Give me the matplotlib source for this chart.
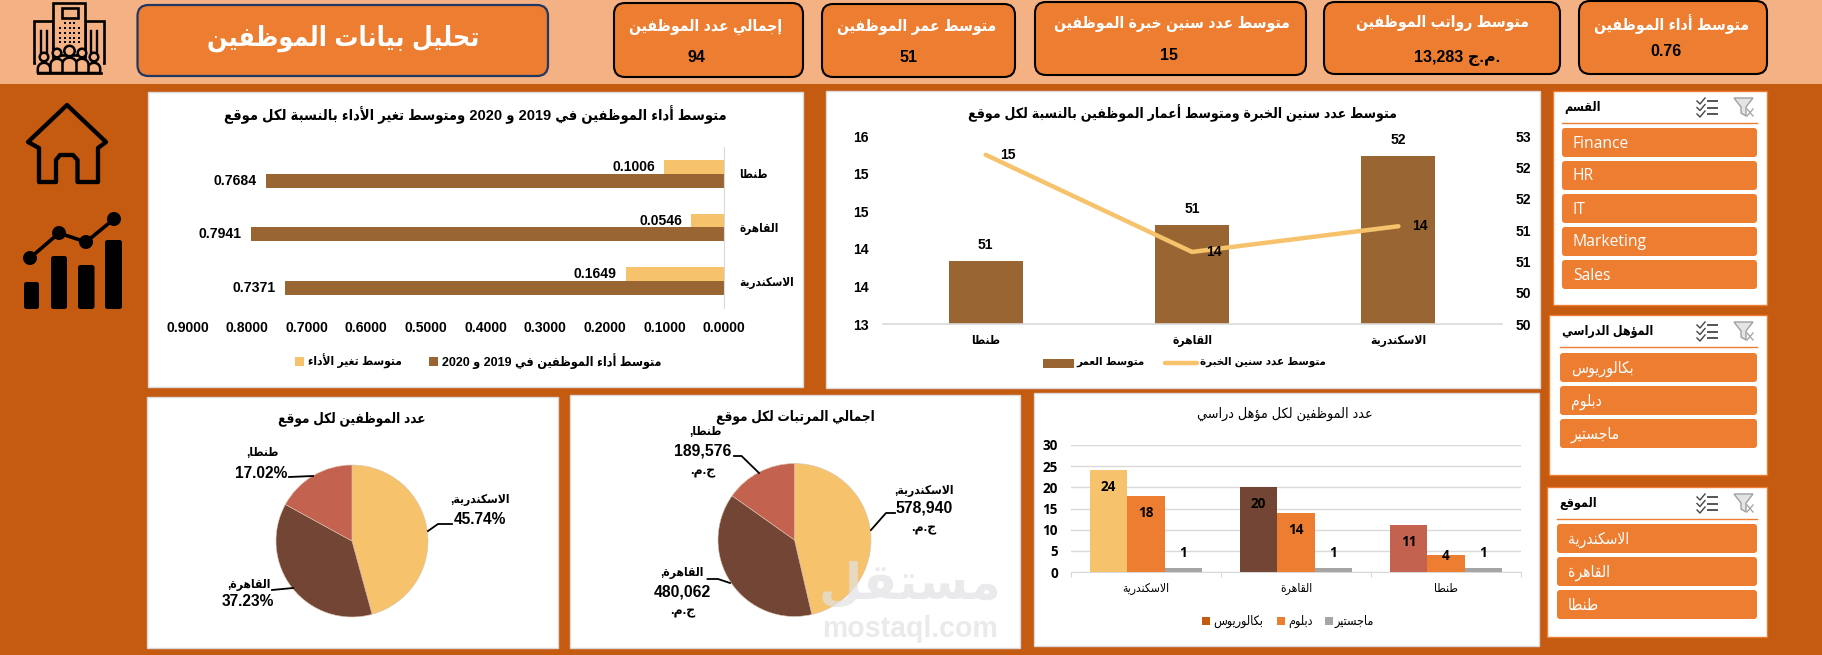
import re
import numpy as np
import matplotlib
matplotlib.use("Agg")
import matplotlib.pyplot as plt
from matplotlib.patches import FancyBboxPatch, Rectangle, Polygon, Circle, Ellipse
from matplotlib.lines import Line2D

W, H = 1822, 655
FONT = ['Liberation Sans', 'DejaVu Sans']
plt.rcParams['font.family'] = FONT

# ---- data ----
sites = ['الاسكندرية', 'القاهرة', 'طنطا']
perf_2019_2020 = [0.7371, 0.7941, 0.7684]
perf_change = [0.1649, 0.0546, 0.1006]

age_sites = ['طنطا', 'القاهرة', 'الاسكندرية']
avg_age = [51.0, 51.58, 52.68]
avg_experience = [15.70, 14.15, 14.56]
left_ticks = [13, 13.6, 14.2, 14.8, 15.4, 16]
right_ticks = [50, 50.5, 51, 51.5, 52, 52.5, 53]
right_tick_labels = ['50', '50', '51', '51', '52', '52', '53']

headcount = [43, 35, 16]
salaries = [578940, 480062, 189576]

degree_names = ['بكالوريوس', 'دبلوم', 'ماجستير']
bachelor = [24, 20, 11]
diploma = [18, 14, 4]
master = [1, 1, 1]

kpi_titles = ['إجمالي عدد الموظفين', 'متوسط عمر الموظفين', 'متوسط عدد سنين خبرة الموظفين',
              'متوسط رواتب الموظفين', 'متوسط أداء الموظفين']
kpi_values = ['94', '51', '15', '13,283 \uFE9D.\uFEE1.', '0.76']

departments = ['Finance', 'HR', 'IT', 'Marketing', 'Sales']

# ---- palette ----
BAND = '#F4B183'
BG = '#C55A11'
ORANGE = '#ED7D31'
GOLD = '#F6C26B'
BROWN = '#996633'
DARK = '#734534'
ROSE = '#C46250'
GREY = '#A5A5A5'
RULE = '#D9D9D9'

# ---- Arabic presentation forms: isolated, final, initial, medial ----
def _forms(start, n):
    return tuple(chr(start + i) for i in range(n))

FORMS = {'ء': _forms(0xFE80, 1), 'آ': _forms(0xFE81, 2), 'أ': _forms(0xFE83, 2), 'ؤ': _forms(0xFE85, 2),
         'إ': _forms(0xFE87, 2), 'ئ': _forms(0xFE89, 4), 'ا': _forms(0xFE8D, 2), 'ب': _forms(0xFE8F, 4),
         'ة': _forms(0xFE93, 2), 'ت': _forms(0xFE95, 4), 'ث': _forms(0xFE99, 4), 'ج': _forms(0xFE9D, 4),
         'ح': _forms(0xFEA1, 4), 'خ': _forms(0xFEA5, 4), 'د': _forms(0xFEA9, 2), 'ذ': _forms(0xFEAB, 2),
         'ر': _forms(0xFEAD, 2), 'ز': _forms(0xFEAF, 2), 'س': _forms(0xFEB1, 4), 'ش': _forms(0xFEB5, 4),
         'ص': _forms(0xFEB9, 4), 'ض': _forms(0xFEBD, 4), 'ط': _forms(0xFEC1, 4), 'ظ': _forms(0xFEC5, 4),
         'ع': _forms(0xFEC9, 4), 'غ': _forms(0xFECD, 4), 'ف': _forms(0xFED1, 4), 'ق': _forms(0xFED5, 4),
         'ك': _forms(0xFED9, 4), 'ل': _forms(0xFEDD, 4), 'م': _forms(0xFEE1, 4), 'ن': _forms(0xFEE5, 4),
         'ه': _forms(0xFEE9, 4), 'و': _forms(0xFEED, 2), 'ى': _forms(0xFEEF, 2), 'ي': _forms(0xFEF1, 4)}
LAM_ALEF = {'آ': (0xFEF5, 0xFEF6), 'أ': (0xFEF7, 0xFEF8), 'إ': (0xFEF9, 0xFEFA), 'ا': (0xFEFB, 0xFEFC)}


def _shape_word(word):
    out = []
    i = 0
    prev_joins = False
    while i < len(word):
        ch = word[i]
        nxt = word[i + 1] if i + 1 < len(word) else ''
        if ch == 'ل' and nxt in LAM_ALEF:
            out.append(chr(LAM_ALEF[nxt][1 if prev_joins else 0]))
            prev_joins = False
            i += 2
            continue
        forms = FORMS.get(ch)
        if forms is None:
            out.append(ch)
            prev_joins = False
            i += 1
            continue
        next_joins = len(forms) == 4 and nxt in FORMS and len(FORMS[nxt]) > 1
        if len(forms) == 1:
            out.append(forms[0])
        elif len(forms) == 2:
            out.append(forms[1 if prev_joins else 0])
        else:
            idx = {(False, False): 0, (True, False): 1, (False, True): 2, (True, True): 3}[(prev_joins, next_joins)]
            out.append(forms[idx])
        prev_joins = next_joins
        i += 1
    return ''.join(reversed(out))


def ar(text):
    """Visual-order string for right-to-left Arabic text."""
    tokens = re.findall(r'[\u0600-\u06FF]+|\s+|[^\u0600-\u06FF\s]+', text)
    return ''.join(_shape_word(t) if re.match(r'[\u0600-\u06FF]', t) else t for t in reversed(tokens))


fig = plt.figure(figsize=(W / 100, H / 100), dpi=100, facecolor=BG)


def rect_axes(x0, y0, x1, y1, **kw):
    return fig.add_axes([x0 / W, 1 - y1 / H, (x1 - x0) / W, (y1 - y0) / H], **kw)


# full-figure layers addressed in pixels
back = rect_axes(0, 0, W, H, zorder=0)
back.set_xlim(0, W); back.set_ylim(H, 0); back.axis('off')
over = rect_axes(0, 0, W, H, zorder=10)
over.set_xlim(0, W); over.set_ylim(H, 0); over.axis('off'); over.patch.set_alpha(0)


def px(p):
    return p * 0.72


def txt(x, y, s, size, color='black', weight='bold', ha='center', va='center', family=FONT, **kw):
    return over.text(x, y, s, fontsize=px(size), color=color, fontweight=weight, ha=ha, va=va,
                     family=family, **kw)


def atxt(x, y, s, size, color='black', weight='bold', ha='center', **kw):
    return txt(x, y, ar(s), size, color, weight, ha, stretch='condensed', **kw)


def rbox(ax, x0, y0, x1, y1, r, fc, ec='none', lw=0, **kw):
    p = FancyBboxPatch((x0, y0), x1 - x0, y1 - y0, boxstyle=f'round,pad=0,rounding_size={r}',
                       fc=fc, ec=ec, lw=lw, **kw)
    ax.add_patch(p)
    return p


def panel(x0, y0, x1, y1, ec=RULE):
    back.add_patch(Rectangle((x0, y0), x1 - x0, y1 - y0, fc='white', ec=ec, lw=1))


# ---- header band ----
back.add_patch(Rectangle((0, 0), W, 84, fc=BAND, ec='none'))
rbox(back, 137.5, 5, 548, 76, 11, ORANGE, '#1F3864', 1.6)
atxt(343, 38, 'تحليل بيانات الموظفين', 26.7, 'white')

kpi_boxes = [(614, 3, 803, 77), (822, 4, 1015, 77), (1035, 2, 1306, 75), (1324, 2, 1560, 74), (1579, 1, 1767, 74)]
kpi_title_pos = [(706, 27), (917, 27), (1172, 24), (1442.5, 23), (1672, 24)]
kpi_value_pos = [(696, 58), (909, 58), (1169, 55), (1457, 58), (1666, 52)]
for box, title, value, tp, vp in zip(kpi_boxes, kpi_titles, kpi_values, kpi_title_pos, kpi_value_pos):
    rbox(back, *box, 11, ORANGE, 'black', 1.5)
    atxt(*tp, title, 15.6, 'white')
    txt(*vp, value, 16, 'black')

# ---- building emblem ----
for (x0, y0, x1, y1) in [(34, 21, 53, 63), (85, 21, 104, 63), (53, 3, 85, 55), (62, 8, 78, 18)]:
    back.add_patch(Rectangle((x0, y0), x1 - x0, y1 - y0, fc=BAND, ec='black', lw=1.9))
for xb in (41, 47, 91, 97):
    back.add_line(Line2D([xb, xb], [31, 52], color='black', lw=1.7))
for xd in (60, 65, 69.5, 74, 79):
    for yd in (23, 28, 33, 38, 42):
        if not (yd == 23 and xd in (60, 79)):
            back.add_patch(Rectangle((xd - 1, yd - 1), 2.2, 2.2, fc='black', ec='none'))
back.add_patch(Rectangle((36, 62), 67, 11, fc=BAND, ec='none'))
theta = np.linspace(np.pi, 0, 24)
for cx, head_y, r, half in [(44, 57, 4.3, 6.2), (94, 57, 4.3, 6.2), (57, 53, 4.3, 6.5), (82, 53, 4.3, 6.5), (69.5, 51, 5.2, 7)]:
    top = head_y + r + 1.5
    bx = cx + half * np.cos(theta)
    by = top + 6 - 6 * np.sin(theta)
    bx = np.r_[bx[0], bx, bx[-1]]
    by = np.r_[73, by, 73]
    back.add_patch(Polygon(np.c_[bx, by], closed=True, fc=BAND, ec='black', lw=1.8, joinstyle='round'))
    back.add_patch(Circle((cx, head_y), r, fc=BAND, ec='black', lw=1.8))
back.add_line(Line2D([38, 101], [73, 73], color='black', lw=1.9))

# ---- side navigation icons ----
home = [(67, 105), (106, 142), (98, 148), (98, 182), (77.5, 182), (77.5, 160), (73, 155), (60, 155), (56, 160),
        (56, 182), (39, 182), (39, 148), (28, 142)]
back.add_patch(Polygon(home, closed=True, fc='none', ec='black', lw=3.1, joinstyle='round'))
for x0, x1, top in [(24, 39, 282), (51, 67, 256), (78, 94.5, 265), (105, 122, 240)]:
    rbox(back, x0, top, x1, 309, 2.5, 'black')
trend = [(30, 258), (59, 233), (86, 242), (114, 219)]
back.add_line(Line2D(*zip(*trend), color='black', lw=2.6))
for pt in trend:
    back.add_patch(Ellipse(pt, 14, 14, fc='black', ec='none'))

# ---- panels ----
panel(148, 92, 803, 387)
panel(826, 91, 1540, 388)
panel(147, 397, 558, 648)
panel(570, 395, 1020, 648)
panel(1034, 393, 1539, 646)

AR_TICK = dict(stretch='condensed')

# ---- performance by site ----
atxt(475, 115, 'متوسط أداء الموظفين في 2019 و 2020 ومتوسط تغير الأداء بالنسبة لكل موقع', 14.6)
ax = rect_axes(187.5, 147, 724, 308, zorder=2)
ax.patch.set_alpha(0)
ypos = np.arange(len(sites))
bar_h = 14 / 53.67
ax.barh(ypos + bar_h / 2, perf_change, bar_h, color=GOLD)
ax.barh(ypos - bar_h / 2, perf_2019_2020, bar_h, color=BROWN)
ax.set_xlim(0.9, 0)
ax.set_ylim(-0.5, 2.5)
for i in ypos:
    ax.annotate(f'{perf_change[i]:.4f}', (perf_change[i], i + bar_h / 2), xytext=(px(-9), 0),
                textcoords='offset points', ha='right', va='center', fontsize=px(14), fontweight='bold')
    ax.annotate(f'{perf_2019_2020[i]:.4f}', (perf_2019_2020[i], i - bar_h / 2), xytext=(px(-9), 0),
                textcoords='offset points', ha='right', va='center', fontsize=px(14), fontweight='bold')
for s in ('left', 'top', 'bottom'):
    ax.spines[s].set_visible(False)
ax.spines['right'].set_color(RULE)
ax.yaxis.tick_right()
ax.set_yticks(ypos, [ar(s) for s in sites], fontsize=px(11.8), fontweight='bold', **AR_TICK)
for lab in ax.get_yticklabels():
    lab.set_ha('left')
ax.set_xticks(np.arange(0, 0.95, 0.1), [f'{v:.4f}' for v in np.arange(0, 0.95, 0.1)], fontsize=px(14), fontweight='bold')
ax.tick_params(axis='y', length=0, pad=px(15))
ax.tick_params(axis='x', length=0, pad=px(13))
back.add_patch(Rectangle((429, 356.5), 9, 9, fc=BROWN, ec='none'))
atxt(442, 361, 'متوسط أداء الموظفين في 2019 و 2020', 12.5, ha='left')
back.add_patch(Rectangle((295, 356.5), 9, 9, fc=GOLD, ec='none'))
atxt(308, 361, 'متوسط تغير الأداء', 12, ha='left')

# ---- experience and age by site ----
atxt(1182.5, 113, 'متوسط عدد سنين الخبرة ومتوسط أعمار الموظفين بالنسبة لكل موقع', 14)
ax_age = rect_axes(882.5, 136, 1501.6, 324, zorder=2)
ax_age.patch.set_alpha(0)
ax_exp = ax_age.twinx()
xpos = np.arange(len(age_sites))
ax_age.bar(xpos, avg_age, 74 / 206.4, color=BROWN)
ax_age.set_xlim(-0.5, 2.5)
ax_age.set_ylim(50, 53)
ax_age.yaxis.tick_right()
ax_age.set_yticks(right_ticks, right_tick_labels, fontsize=px(14), fontweight='bold')
ax_age.tick_params(axis='y', length=0, pad=px(14))
ax_age.set_xticks(xpos, [ar(s) for s in age_sites], fontsize=px(12), fontweight='bold', **AR_TICK)
ax_age.tick_params(axis='x', length=0, pad=px(11))
for s in ('left', 'top', 'right'):
    ax_age.spines[s].set_visible(False)
ax_age.spines['bottom'].set_color(RULE)
ax_age.spines['bottom'].set_linewidth(1.2)
for x, v in zip(xpos, avg_age):
    ax_age.annotate(str(int(v)), (x, v), xytext=(0, px(16)), textcoords='offset points', ha='center', va='center',
                    fontsize=px(14), fontweight='bold')

ax_exp.set_zorder(3)
ax_exp.patch.set_alpha(0)
ax_exp.plot(xpos, avg_experience, color=GOLD, lw=3.2, solid_capstyle='round', solid_joinstyle='miter')
ax_exp.set_ylim(13, 16)
ax_exp.yaxis.tick_left()
ax_exp.set_yticks(left_ticks, ['13', '14', '14', '15', '15', '16'], fontsize=px(14), fontweight='bold')
ax_exp.tick_params(axis='y', length=0, pad=px(14))
ax_exp.spines[:].set_visible(False)
for x, v in zip(xpos, avg_experience):
    ax_exp.annotate(str(int(v)), (x, v), xytext=(px(22), 0), textcoords='offset points', ha='center', va='center',
                    fontsize=px(14), fontweight='bold')
back.add_patch(Rectangle((1043, 359), 31, 9, fc=BROWN, ec='none'))
atxt(1076, 362, 'متوسط العمر', 11.5, ha='left')
back.add_line(Line2D([1165, 1197], [362.5, 362.5], color=GOLD, lw=3.2, solid_capstyle='round'))
atxt(1199.5, 362, 'متوسط عدد سنين الخبرة', 11.5, ha='left')

# ---- pies ----
pie_colors = [GOLD, DARK, ROSE]


def pie_axes(cx, cy, r, values):
    a = rect_axes(cx - r, cy - r, cx + r, cy + r, zorder=2)
    a.pie(values, startangle=90, counterclock=False, colors=pie_colors, radius=1,
          wedgeprops=dict(linewidth=0.4, edgecolor='#D9C4B0'))
    a.set_xlim(-1, 1)
    a.set_ylim(-1, 1)
    return a


def leader(*pts):
    over.add_line(Line2D(*zip(*pts), color='black', lw=1.3))


atxt(352, 419, 'عدد الموظفين لكل موقع', 13.5)
pie_axes(352, 541, 76, headcount)
shares = [f'{v / sum(headcount) * 100:.2f}%' for v in headcount]
atxt(480, 500, sites[0] + ',', 12)
txt(479.5, 519, shares[0], 15.5)
leader((428, 531), (438, 524), (452, 524))
atxt(262, 453, sites[2] + ',', 12)
txt(261, 473, shares[2], 15.5)
leader((289, 477), (313, 476))
atxt(249, 585, sites[1] + ',', 12)
txt(248, 602, shares[1], 15.5)
leader((272, 590), (293, 588))

atxt(795, 417, 'اجمالي المرتبات لكل موقع', 13.5)
pie_axes(794.5, 540, 76.5, salaries)
CURRENCY = '.\uFEE1.\uFE9D'
atxt(924, 491, sites[0] + ',', 12)
txt(924, 508, f'{salaries[0]:,}', 15.8)
txt(924, 529, CURRENCY, 12.5)
leader((871, 530), (886, 513), (895, 513))
atxt(705, 432, sites[2] + ',', 12)
txt(703, 451, f'{salaries[2]:,}', 15.8)
txt(703, 472, CURRENCY, 12.5)
leader((759, 473), (741.6, 456), (734, 456))
atxt(682, 573, sites[1] + ',', 12)
txt(682, 592, f'{salaries[1]:,}', 15.8)
txt(683, 612, CURRENCY, 12.5)
leader((730, 583), (718, 579), (707.5, 579))

# ---- staff by qualification ----
atxt(1285, 414, 'عدد الموظفين لكل مؤهل دراسي', 14.3, weight='normal')
ax_deg = rect_axes(1071, 445, 1521, 572, zorder=2)
ax_deg.patch.set_alpha(0)
xdeg = np.arange(len(sites))
bw = 0.25
ax_deg.bar(xdeg - bw, bachelor, bw, color=pie_colors, zorder=3)
ax_deg.bar(xdeg, diploma, bw, color=ORANGE, zorder=3)
ax_deg.bar(xdeg + bw, master, bw, color=GREY, zorder=3)
ax_deg.set_xlim(-0.5, 2.5)
ax_deg.set_ylim(0, 30)
ax_deg.set_yticks(range(0, 31, 5), [str(v) for v in range(0, 31, 5)], fontsize=px(13.5), fontweight='bold', family='Open Sans')
ax_deg.grid(axis='y', color=RULE, lw=1, zorder=0)
ax_deg.set_axisbelow(True)
ax_deg.tick_params(axis='y', length=0, pad=px(13))
ax_deg.set_xticks([-0.5, 0.5, 1.5, 2.5], ['', '', '', ''])
ax_deg.tick_params(axis='x', which='major', length=px(5), color=RULE)
ax_deg.set_xticks(xdeg, [ar(s) for s in sites], minor=True, fontsize=px(12), **AR_TICK)
ax_deg.tick_params(axis='x', which='minor', length=0, pad=px(11))
for s in ('left', 'top', 'right'):
    ax_deg.spines[s].set_visible(False)
ax_deg.spines['bottom'].set_color(RULE)
for x, b, d, m in zip(xdeg, bachelor, diploma, master):
    for xv, v, off in ((x - bw, b, -17), (x, d, -17 if d > 5 else -1), (x + bw, m, 15)):
        ax_deg.annotate(str(v), (xv, v), xytext=(0, px(off)), textcoords='offset points', ha='center', va='center',
                        fontsize=px(13.5), fontweight='bold', family='Open Sans', zorder=5)
for (sx, tx), name, col in zip([(1202, 1213), (1277, 1288), (1325, 1335)], degree_names, [BG, ORANGE, GREY]):
    back.add_patch(Rectangle((sx, 617), 8, 8, fc=col, ec='none'))
    atxt(tx, 621, name, 12.5, ha='left', weight='normal')


# ---- filter panels ----
def filter_icons(top):
    for i in range(3):
        yy = top + 3 + i * 6.5
        back.add_line(Line2D([1697, 1700, 1705], [yy, yy + 3, yy - 3], color='#444444', lw=1))
        back.add_line(Line2D([1708, 1717], [yy, yy], color='#555555', lw=1.4))
    back.add_patch(Polygon([(1734, top), (1753, top), (1746, top + 9), (1746, top + 18), (1741, top + 15), (1741, top + 9)],
                           closed=True, fc='#E4E4E4', ec='#A0A0A0', lw=1))
    back.add_line(Line2D([1747, 1753], [top + 11, top + 18], color='#A8A8A8', lw=1))
    back.add_line(Line2D([1747, 1753], [top + 18, top + 11], color='#A8A8A8', lw=1))


def slicer(frame, title, rule_x0, rule_y, btn_rows, labels, label_x, icon_top, arabic):
    panel(*frame, ec=ORANGE)
    atxt(rule_x0 + 2, rule_y - 15, title, 12.5, ha='left')
    back.add_line(Line2D([rule_x0, 1757], [rule_y, rule_y], color=ORANGE, lw=1))
    filter_icons(icon_top)
    for (y0, y1), lab in zip(btn_rows, labels):
        rbox(back, rule_x0, y0, 1757, y1, 3, ORANGE)
        if arabic:
            atxt(label_x, (y0 + y1) / 2 + 1, lab, 15.5, 'white', 'normal', ha='left')
        else:
            txt(label_x, (y0 + y1) / 2 + 1, lab, 15.6, 'white', 'normal', ha='left', family='Open Sans')


slicer((1553, 91, 1767, 305), 'القسم', 1562, 123,
       [(128, 157), (161, 190), (194, 223), (227, 256), (260, 289)], departments, 1573, 98, False)
slicer((1549, 315, 1767, 475), 'المؤهل الدراسي', 1560, 347,
       [(353, 382), (386, 415), (419, 448)], degree_names, 1571, 322, True)
slicer((1547, 487, 1767, 637), 'الموقع', 1557, 519,
       [(524, 553), (557, 586), (590, 619)], sites, 1568, 494, True)

# ---- site watermark ----
txt(910, 629, 'mostaql.com', 28.5, '#E2E2E5', 'bold', alpha=0.7, zorder=20)
txt(910, 585, ar('مستقل'), 50, '#E2E2E5', 'bold', alpha=0.7, zorder=20)

fig.savefig('out.png', dpi=100, facecolor=BG)
